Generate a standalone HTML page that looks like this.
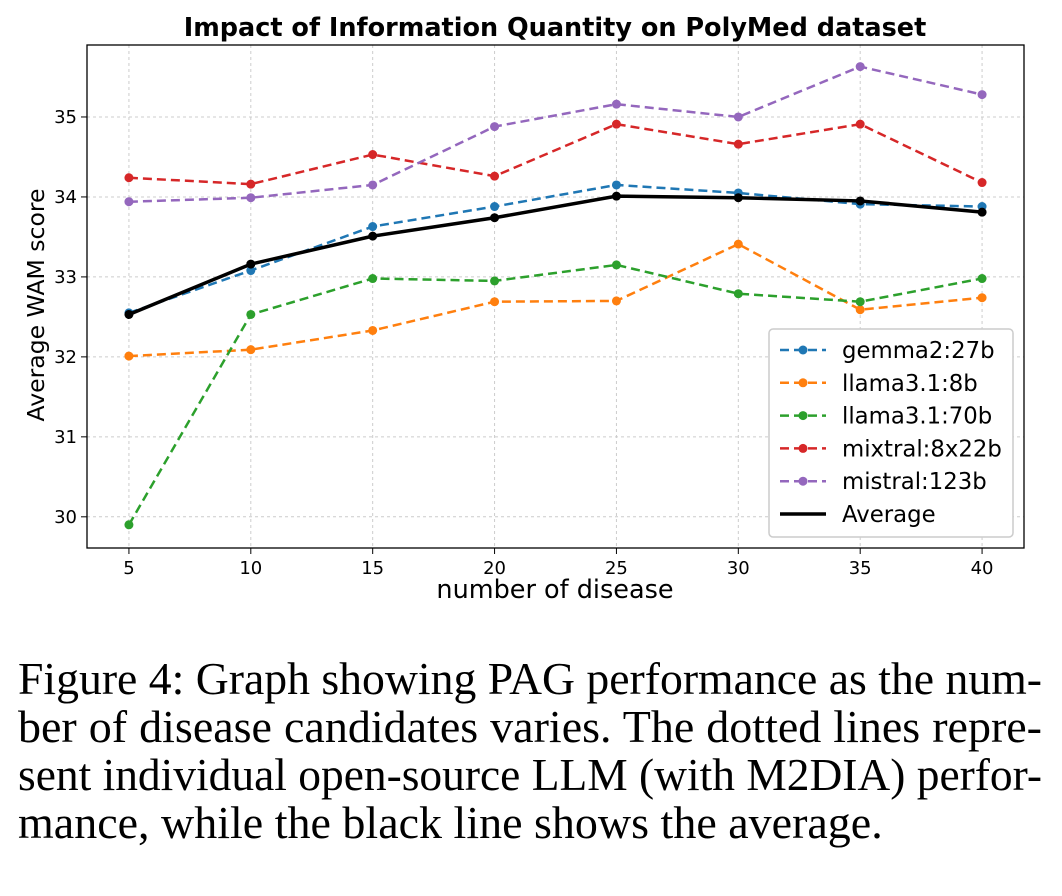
<!DOCTYPE html>
<html><head><meta charset="utf-8">
<style>
body{margin:0;background:#fff;width:1062px;height:896px;overflow:hidden;position:relative}
#cap{position:absolute;left:18px;top:655px;width:1024px;font-family:"Liberation Serif",serif;font-size:46px;line-height:48px;color:#000}
#cap div{white-space:nowrap;transform-origin:0 0}
#cap span{display:inline-block;white-space:nowrap}
</style></head><body>
<svg id="chart" width="1062" height="640" style="position:absolute;left:0;top:0" font-family="DejaVu Sans, sans-serif"></svg>
<div id="cap"><div class="j">Figure 4: Graph showing PAG performance as the num-</div><div class="j">ber of disease candidates varies. The dotted lines repre-</div><div class="j">sent individual open-source LLM (with M2DIA) perfor-</div><div>mance, while the black line shows the average.</div></div>
<script>
const categories=[5,10,15,20,25,30,35,40];
const gemma=[32.55,33.08,33.63,33.88,34.15,34.05,33.91,33.88];
const llama8=[32.01,32.09,32.33,32.69,32.70,33.41,32.59,32.74];
const llama70=[29.9,32.53,32.98,32.95,33.15,32.79,32.69,32.98];
const mixtral=[34.24,34.16,34.53,34.26,34.91,34.66,34.91,34.18];
const mistral=[33.94,33.99,34.15,34.88,35.16,35.0,35.63,35.28];
const average=[32.53,33.16,33.51,33.74,34.01,33.99,33.95,33.81];
const yTicks=[30,31,32,33,34,35];
const seriesNames=["gemma2:27b","llama3.1:8b","llama3.1:70b","mixtral:8x22b","mistral:123b","Average"];
const colors=["#1f77b4","#ff7f0e","#2ca02c","#d62728","#9467bd","#000"];
const allSeries=[gemma,llama8,llama70,mixtral,mistral,average];

const svg=document.getElementById('chart');
const NS='http://www.w3.org/2000/svg';
const L=87,R=1024,T=45,B=548;
const x=v=>L+(v-3.28)/(41.72-3.28)*(R-L);
const y=v=>B-(v-29.61)/(35.9-29.61)*(B-T);
function mk(t,a,p){const e=document.createElementNS(NS,t);for(const k in a)e.setAttribute(k,a[k]);(p||svg).appendChild(e);return e;}
categories.forEach(c=>{const g=mk('line',{x1:x(c),x2:x(c),y1:T,y2:B,stroke:'#ccc','stroke-dasharray':'3,3','stroke-width':1});

});
yTicks.forEach(v=>{const g=mk('line',{x1:L,x2:R,y1:y(v),y2:y(v),stroke:'#ccc','stroke-dasharray':'3,3','stroke-width':1});

});
const ax=mk('rect',{x:L,y:T,width:R-L,height:B-T,fill:'none',stroke:'#000','stroke-width':1.3});


categories.forEach(c=>{mk('line',{x1:x(c),x2:x(c),y1:B,y2:B+6,stroke:'#000'});
const t=mk('text',{x:x(c),y:B+26,'text-anchor':'middle','font-size':18});t.textContent=c;

});
yTicks.forEach(v=>{mk('line',{x1:L-6,x2:L,y1:y(v),y2:y(v),stroke:'#000'});
const t=mk('text',{x:L-10,y:y(v)+6,'text-anchor':'end','font-size':18});t.textContent=v;

});
let t=mk('text',{x:555,y:36,'text-anchor':'middle','font-size':25.5,'font-weight':'bold'});t.textContent='Impact of Information Quantity on PolyMed dataset';


t=mk('text',{x:555,y:598,'text-anchor':'middle','font-size':25.5});t.textContent='number of disease';


t=mk('text',{x:0,y:0,'text-anchor':'middle','font-size':23.5,transform:'translate(44,305) rotate(-90)'});t.textContent='Average WAM score';


allSeries.forEach((s,i)=>{
 const isAvg=i===5;
 const pl=mk('polyline',{points:s.map((v,j)=>x(categories[j])+','+y(v)).join(' '),fill:'none',stroke:colors[i],'stroke-width':isAvg?3.5:2.5,'stroke-dasharray':isAvg?'none':'9,5'});
 
 
 s.forEach((v,j)=>{const c=mk('circle',{cx:x(categories[j]),cy:y(v),r:4.5,fill:colors[i]});
 
 });
});
const lg=mk('g',{});


mk('rect',{x:769,y:329,width:244,height:208,rx:4,fill:'#fff',stroke:'#ccc','stroke-width':1.5},lg);
seriesNames.forEach((n,i)=>{
 const yy=350+i*32.8;
 mk('line',{x1:780,x2:826,y1:yy,y2:yy,stroke:colors[i],'stroke-width':i===5?3.5:2.5,'stroke-dasharray':i===5?'none':'9,5'},lg);
 if(i<5)mk('circle',{cx:803,cy:yy,r:4.5,fill:colors[i]},lg);
 const tt=mk('text',{x:842,y:yy+8,'font-size':22.8},lg);tt.textContent=n;
 
 
});
document.querySelectorAll('#cap div.j').forEach(d=>{
 const span=document.createElement('span');span.textContent=d.textContent;d.textContent='';d.appendChild(span);
 const w=span.getBoundingClientRect().width;
 if(w>1024){d.style.transform='scaleX('+(1024/w)+')';}
 else{const gaps=(span.textContent.match(/ /g)||[]).length;span.style.wordSpacing=((1024-w)/gaps)+'px';}
});
</script>
</body></html>
